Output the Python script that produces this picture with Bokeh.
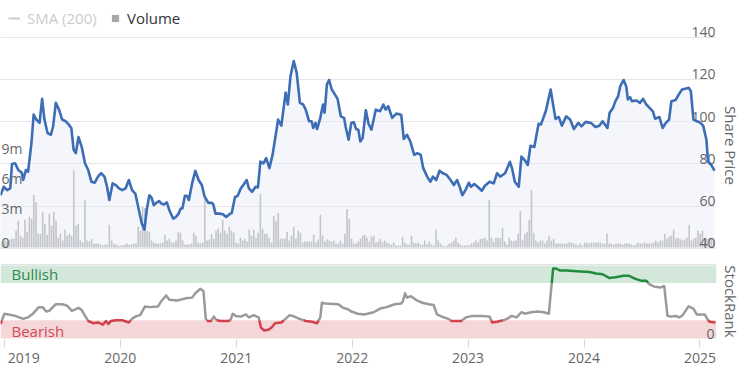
import math
from bokeh.plotting import figure
from bokeh.layouts import column
from bokeh.models import (Range1d, FixedTicker, Grid, LinearAxis, Legend, LegendItem,
                          BoxAnnotation)
from bokeh.core.properties import value
from bokeh.embed import file_html
from bokeh.resources import INLINE

FONT = "Open Sans"

# ---- data (x in decimal years) ----
price_t = [2018.966, 2018.994, 2019.023, 2019.050, 2019.065, 2019.092, 2019.120, 2019.149, 2019.162, 2019.185,
           2019.204, 2019.233, 2019.252, 2019.275, 2019.303, 2019.325, 2019.345, 2019.372, 2019.401, 2019.420,
           2019.443, 2019.471, 2019.498, 2019.527, 2019.555, 2019.577, 2019.597, 2019.616, 2019.639, 2019.666,
           2019.695, 2019.723, 2019.750, 2019.779, 2019.807, 2019.834, 2019.863, 2019.885, 2019.905, 2019.933,
           2019.961, 2019.989, 2020.017, 2020.045, 2020.073, 2020.101, 2020.129, 2020.157, 2020.185, 2020.208,
           2020.227, 2020.250, 2020.269, 2020.288, 2020.311, 2020.334, 2020.353, 2020.376, 2020.401, 2020.423,
           2020.456, 2020.479, 2020.502, 2020.521, 2020.535, 2020.557, 2020.577, 2020.591, 2020.619, 2020.647,
           2020.675, 2020.703, 2020.725, 2020.759, 2020.787, 2020.801, 2020.821, 2020.857, 2020.885, 2020.913,
           2020.941, 2020.961, 2020.989, 2021.011, 2021.039, 2021.067, 2021.090, 2021.109, 2021.137, 2021.166,
           2021.187, 2021.208, 2021.235, 2021.258, 2021.286, 2021.313, 2021.334, 2021.361, 2021.389, 2021.426,
           2021.445, 2021.468, 2021.496, 2021.521, 2021.549, 2021.577, 2021.599, 2021.628, 2021.650, 2021.664,
           2021.683, 2021.697, 2021.725, 2021.748, 2021.762, 2021.782, 2021.801, 2021.824, 2021.851, 2021.874,
           2021.902, 2021.930, 2021.944, 2021.969, 2021.992, 2022.014, 2022.034, 2022.053, 2022.070, 2022.090,
           2022.118, 2022.141, 2022.166, 2022.204, 2022.241, 2022.269, 2022.288, 2022.311, 2022.345, 2022.381,
           2022.423, 2022.445, 2022.473, 2022.502, 2022.535, 2022.563, 2022.591, 2022.613, 2022.647, 2022.675,
           2022.697, 2022.725, 2022.754, 2022.782, 2022.815, 2022.849, 2022.877, 2022.905, 2022.927, 2022.950,
           2022.977, 2023.006, 2023.025, 2023.053, 2023.082, 2023.118, 2023.145, 2023.185, 2023.221, 2023.250,
           2023.277, 2023.319, 2023.361, 2023.381, 2023.403, 2023.437, 2023.460, 2023.487, 2023.515, 2023.538,
           2023.571, 2023.608, 2023.628, 2023.670, 2023.712, 2023.754, 2023.782, 2023.809, 2023.846, 2023.880,
           2023.913, 2023.950, 2023.978, 2024.014, 2024.061, 2024.098, 2024.132, 2024.160, 2024.202, 2024.221,
           2024.250, 2024.271, 2024.294, 2024.313, 2024.342, 2024.364, 2024.378, 2024.398, 2024.412, 2024.454,
           2024.482, 2024.510, 2024.538, 2024.566, 2024.594, 2024.613, 2024.650, 2024.678, 2024.706, 2024.734,
           2024.754, 2024.790, 2024.818, 2024.846, 2024.874, 2024.903, 2024.922, 2024.944, 2024.972, 2025.000,
           2025.028, 2025.056, 2025.070, 2025.098, 2025.126]
price = [65.2, 69.2, 67.6, 68.4, 80.0, 80.3, 77.1, 75.9, 72.4, 77.1,
         76.3, 89.9, 103.3, 101.0, 99.4, 110.8, 101.0, 94.6, 93.8, 97.8,
         108.9, 105.7, 101.0, 100.2, 98.6, 97.0, 86.7, 85.1, 92.7, 88.2,
         80.3, 77.1, 71.6, 71.1, 74.0, 75.6, 74.0, 69.2, 62.9, 70.8,
         70.0, 68.4, 67.6, 68.4, 72.4, 67.6, 66.0, 58.9, 51.8, 48.9,
         58.1, 65.2, 64.1, 60.5, 61.6, 62.4, 61.3, 60.8, 61.8, 58.1,
         54.1, 54.9, 56.5, 58.9, 58.9, 64.9, 64.8, 62.9, 70.8, 76.7,
         72.4, 70.0, 64.8, 61.6, 61.6, 61.0, 56.5, 56.5, 56.2, 54.9,
         56.2, 56.8, 64.4, 64.8, 68.4, 70.5, 72.4, 68.4, 66.8, 69.2,
         68.9, 81.1, 80.3, 82.7, 78.0, 84.3, 91.4, 101.0, 98.1, 113.7,
         108.1, 121.6, 128.7, 123.2, 108.9, 108.1, 105.7, 100.2, 100.2, 97.0,
         99.4, 96.5, 101.8, 108.1, 104.2, 117.6, 119.7, 115.2, 112.9, 110.8,
         102.5, 101.8, 97.5, 91.4, 99.4, 99.7, 96.5, 96.2, 90.6, 92.2,
         105.4, 99.0, 96.2, 105.7, 104.9, 108.1, 105.7, 107.3, 101.8, 103.8,
         103.3, 91.8, 93.8, 90.6, 84.3, 85.1, 84.3, 78.0, 74.0, 71.6,
         74.0, 72.4, 76.8, 75.6, 74.8, 72.4, 70.0, 72.4, 69.2, 65.2,
         67.6, 71.1, 69.2, 70.5, 69.2, 67.3, 69.7, 71.6, 70.8, 75.6,
         74.0, 75.6, 81.0, 77.5, 71.6, 69.2, 83.5, 81.9, 79.5, 88.6,
         88.0, 99.0, 98.6, 104.9, 115.2, 101.3, 102.2, 98.1, 102.5, 101.0,
         96.5, 99.4, 97.8, 99.9, 99.4, 97.5, 98.1, 100.2, 97.0, 104.2,
         106.5, 109.7, 112.0, 116.8, 119.7, 116.8, 110.5, 111.6, 109.7, 110.0,
         108.9, 110.8, 108.1, 106.5, 104.9, 101.4, 102.2, 97.0, 99.4, 101.0,
         109.7, 110.2, 112.9, 115.2, 115.6, 116.0, 114.4, 101.0, 100.2, 99.7,
         98.1, 91.4, 81.1, 79.5, 76.8]

# weekly volume (millions), first week starting at vol_start
vol_start = 2018.966
vol_week = 7 / 365.25
volume_m = [0.6, 0.5, 0.7, 0.6, 0.8, 0.9, 0.9, 1.7, 2.7, 1.2, 1.0, 2.8, 1.6, 3.1, 2.9, 5.3, 4.6, 1.4, 1.4, 3.6,
            2.4, 1.3, 3.4, 2.2, 3.6, 2.7, 1.0, 1.4, 0.7, 1.8, 1.2, 1.4, 1.2, 7.8, 2.2, 2.4, 0.7, 0.5, 4.8, 0.7,
            0.6, 0.9, 0.4, 0.4, 0.4, 0.3, 0.2, 0.3, 0.3, 2.3, 0.7, 0.4, 0.3, 0.2, 0.2, 0.2, 0.3, 0.4, 0.3, 0.3,
            0.4, 0.4, 2.1, 1.7, 4.1, 4.0, 1.7, 1.6, 0.7, 0.5, 0.4, 0.4, 0.4, 0.5, 1.3, 0.7, 0.9, 0.5, 0.5, 0.7,
            1.6, 1.5, 0.7,
            0.3, 0.3, 0.3, 0.4, 1.5, 1.2, 0.5, 0.4, 0.5,
            4.9, 0.7, 0.8, 1.4, 0.9, 1.7, 1.9, 1.5, 2.8, 1.7, 1.4, 2.1, 1.7, 1.5, 0.5, 0.4, 1.0, 0.7, 0.9, 0.6,
            1.8, 1.2, 1.8, 1.0, 1.5, 5.4, 1.9, 1.4, 1.4, 1.0, 0.5, 3.2, 2.7, 3.5, 0.9, 0.9, 0.9, 1.6, 0.7, 1.2,
            2.1, 0.9, 1.7, 1.5, 0.5, 0.6, 0.6, 0.6, 0.6, 1.3, 0.5, 0.8, 3.3, 1.2, 0.6, 0.8, 0.7, 0.6, 0.7, 0.4,
            0.4, 0.7, 0.4, 1.4, 3.9, 2.9, 0.9, 0.4, 0.4, 0.6, 0.9, 1.2,
            1.3, 1.0, 0.6, 1.1, 1.2, 0.5, 0.6, 0.9, 0.5, 0.7, 0.5, 0.4, 0.3, 0.5, 0.2, 0.2, 0.2, 1.1, 0.5, 0.3,
            0.3, 1.2, 0.5, 0.4, 0.5, 0.3, 0.3, 0.7, 0.3, 0.6, 0.3, 0.2, 1.8, 0.7, 0.4, 0.2, 0.1, 0.2, 0.4, 0.5,
            0.7, 1.0, 0.5, 0.3, 0.2, 0.2, 0.2, 0.2, 0.4, 0.5, 0.7, 0.5, 0.9, 0.9, 1.0, 0.7, 4.8, 1.0, 0.6, 1.0,
            1.0, 1.0, 2.0, 0.6, 0.3, 1.0, 0.7, 0.6, 0.7, 1.4, 3.7, 0.7, 1.4, 1.6, 2.8, 5.8, 1.5, 0.7, 0.5, 0.7,
            0.7, 0.4, 0.7, 1.2, 0.7, 0.9, 0.4, 0.4, 0.4, 0.4, 0.4, 0.4, 0.5, 0.5, 0.4, 0.3, 0.2, 0.4, 0.2, 0.5,
            0.5, 0.4, 0.5, 0.5, 0.5, 0.5, 0.5, 0.4, 0.4, 1.4, 0.4, 0.4, 0.3, 0.4, 0.4, 0.4, 0.3, 0.4, 0.4, 0.4,
            0.3, 0.2, 0.3, 0.5, 0.4, 0.4, 0.5, 0.4, 0.4, 0.4, 0.5, 0.7, 0.5, 0.7, 0.7, 1.4, 0.9, 1.1, 1.2, 1.8,
            0.9, 1.0, 0.9, 0.7, 0.8, 1.0, 2.3, 0.7, 0.9, 1.0, 1.7, 1.4, 1.7, 1.0, 0.9, 1.0, 1.0, 0.8]

rank_t = [2018.966, 2019.000, 2019.036, 2019.092, 2019.162, 2019.204, 2019.246, 2019.297, 2019.330, 2019.359,
          2019.387, 2019.443, 2019.498, 2019.540, 2019.582, 2019.639, 2019.666, 2019.723, 2019.765, 2019.807,
          2019.849, 2019.876, 2019.897, 2019.918, 2019.961, 2020.017, 2020.073, 2020.101, 2020.129, 2020.171,
          2020.213, 2020.255, 2020.325, 2020.353, 2020.395, 2020.423, 2020.493, 2020.563, 2020.619, 2020.647,
          2020.689, 2020.717, 2020.737, 2020.754, 2020.782, 2020.807, 2020.829, 2020.871, 2020.927, 2020.950,
          2020.969, 2020.997, 2021.039, 2021.082, 2021.109, 2021.151, 2021.193, 2021.213, 2021.241, 2021.277,
          2021.305, 2021.334, 2021.389, 2021.426, 2021.460, 2021.487, 2021.544, 2021.599, 2021.655, 2021.697,
          2021.725, 2021.739, 2021.767, 2021.880, 2021.922, 2021.964, 2021.992, 2022.048, 2022.103, 2022.185,
          2022.241, 2022.297, 2022.367, 2022.423, 2022.437, 2022.456, 2022.473, 2022.507, 2022.549, 2022.605,
          2022.661, 2022.703, 2022.731, 2022.773, 2022.829, 2022.857, 2022.941, 2022.983, 2023.039, 2023.124,
          2023.185, 2023.208, 2023.250, 2023.305, 2023.347, 2023.376, 2023.418, 2023.460, 2023.487, 2023.515,
          2023.544, 2023.599, 2023.655, 2023.697, 2023.712, 2023.734, 2023.754, 2023.796, 2023.851, 2023.935,
          2024.048, 2024.103, 2024.160, 2024.216, 2024.271, 2024.342, 2024.384, 2024.439, 2024.496, 2024.538,
          2024.566, 2024.608, 2024.664, 2024.692, 2024.720, 2024.748, 2024.790, 2024.818, 2024.846, 2024.902,
          2024.944, 2024.972, 2025.000, 2025.042, 2025.070, 2025.084, 2025.134]
rank = [20, 34, 33, 31, 27, 29, 34, 43, 43, 37,
        38, 47, 47, 45, 38, 42, 39, 24, 21, 22,
        19, 24, 20, 24, 25, 25, 22, 27, 30, 32,
        44, 43, 44, 51, 59, 53, 52, 55, 56, 62,
        68, 65, 27, 24, 24, 30, 25, 24, 24, 25,
        34, 31, 30, 33, 29, 32, 29, 15, 11, 12,
        15, 21, 22, 27, 32, 31, 27, 24, 23, 21,
        29, 49, 48, 47, 42, 40, 37, 34, 33, 36,
        41, 43, 47, 48, 51, 62, 56, 58, 53, 49,
        47, 46, 33, 30, 27, 24, 24, 29, 31, 31,
        30, 22, 23, 25, 28, 31, 29, 36, 34, 35,
        36, 37, 36, 34, 60, 96, 96, 93, 93, 92,
        91, 89, 88, 83, 84, 86, 86, 82, 79, 79,
        74, 71, 70, 72, 31, 30, 31, 29, 31, 44,
        41, 33, 33, 33, 25, 23, 22]

year_ticks = [2019, 2020, 2021, 2022, 2023, 2024, 2025]
price_ticks = [40, 60, 80, 100, 120, 140]
vol_ticks = [0, 3, 6, 9]
vol_tick_labels = ["0", "3m", "6m", "9m"]
rank_ticks = [0]
bear_zone = (0, 25)
bull_zone = (76, 100)

# ---- layout constants ----
X0, X1 = 2018.966, 2025.143
FW = 716
RB = 24
TEXT = "#666666"
NBSP = "\u00a0"
ZWSP = "\u200b"

xr = Range1d(X0, X1)


def bare_figure(frame_height, y_range, top=0):
    f = figure(frame_width=FW, frame_height=frame_height, x_range=xr, y_range=y_range,
               x_axis_location=None, y_axis_location=None, toolbar_location=None,
               output_backend="svg", min_border_left=0, min_border_right=RB,
               min_border_top=top, min_border_bottom=0, outline_line_color=None)
    f.xgrid.visible = False
    f.ygrid.visible = False
    return f


def title_axis(text):
    return LinearAxis(ticker=FixedTicker(ticks=[]), axis_label=text,
                      axis_line_color=None, major_tick_line_color=None, minor_tick_line_color=None,
                      major_tick_out=0, major_tick_in=0, major_label_standoff=0,
                      axis_label_standoff=4, axis_label_text_font=FONT,
                      axis_label_text_font_size="15px", axis_label_text_font_style="normal",
                      axis_label_text_color=TEXT)


# ================= price / volume panel =================
p1 = bare_figure(251, Range1d(38.58, 157.3))
p1.extra_y_ranges = {"vol": Range1d(-0.40, 24.95)}
p1.add_layout(Grid(dimension=1, ticker=FixedTicker(ticks=price_ticks),
                   grid_line_color="#e6e6e6", grid_line_width=1))

p1.varea(x=price_t, y1=40, y2=price, fill_color="#e6ebf7", fill_alpha=0.45)
vol_t = [vol_start + i * vol_week for i in range(len(volume_m))]
p1.vbar(x=vol_t, top=volume_m, bottom=0, width=vol_week * 0.72, y_range_name="vol",
        fill_color="#c3c5cb", line_color=None)

p1.text(x=[X1] * len(price_ticks), y=price_ticks, text=[str(v) for v in price_ticks],
        text_align="right", text_baseline="bottom", x_offset=-1,
        text_font=value(FONT), text_font_size="14px", text_color=TEXT)
p1.text(x=[X0] * len(vol_ticks), y=vol_ticks, text=vol_tick_labels, y_range_name="vol",
        text_align="left", text_baseline="bottom", x_offset=1,
        text_font=value(FONT), text_font_size="14px", text_color=TEXT)

p1.line(price_t, price, line_color="#3d6db5", line_width=2.6, line_join="round")

# legend keys (nothing drawn in the plot area)
sma_key = p1.line(x=[math.nan], y=[math.nan], line_color="#cccccc", line_width=2)
vol_key = p1.scatter(x=[math.nan], y=[math.nan], marker="square", size=7,
                     fill_color="#a9a9a9", line_color=None)
leg1 = Legend(items=[LegendItem(label="SMA (200)", renderers=[sma_key])],
              location=(8, 223), glyph_width=12, glyph_height=20,
              label_standoff=7, padding=0, margin=0, spacing=0,
              background_fill_alpha=0, border_line_color=None,
              label_text_font=FONT, label_text_font_size="15px", label_text_color="#cccccc")
leg2 = Legend(items=[LegendItem(label="Volume", renderers=[vol_key])],
              location=(106, 223), glyph_width=18, glyph_height=20,
              label_standoff=3, padding=0, margin=0, spacing=0,
              background_fill_alpha=0, border_line_color=None,
              label_text_font=FONT, label_text_font_size="15px", label_text_color="#333333")
p1.add_layout(leg1)
p1.add_layout(leg2)

# title centred on the price scale (below the legend strip)
p1.add_layout(title_axis(ZWSP + NBSP * 10 + "Share Price"), "right")

# ================= StockRank panel =================
p2 = bare_figure(76, Range1d(-1.3, 102.7), top=12)
p2.add_layout(Grid(dimension=1, ticker=FixedTicker(ticks=[101.9]),
                   grid_line_color="#e3e3e3", grid_line_width=1.5))

p2.add_layout(BoxAnnotation(bottom=bear_zone[0], top=bear_zone[1], fill_color="#f5d7d9",
                            fill_alpha=1, line_color=None, level="underlay"))
p2.add_layout(BoxAnnotation(bottom=bull_zone[0], top=bull_zone[1], fill_color="#d3e8db",
                            fill_alpha=1, line_color=None, level="underlay"))

p2.text(x=[X0], y=[88], text=["Bullish"], x_offset=11, text_align="left", text_baseline="middle",
        text_font=value(FONT), text_font_size="15px", text_color="#2c8a4c")
p2.text(x=[X0], y=[11], text=["Bearish"], x_offset=11, text_align="left", text_baseline="middle",
        text_font=value(FONT), text_font_size="15px", text_color="#d04a55")
p2.text(x=[X1] * len(rank_ticks), y=rank_ticks, text=[str(v) for v in rank_ticks],
        text_align="right", text_baseline="bottom", x_offset=-2,
        text_font=value(FONT), text_font_size="14px", text_color=TEXT)

# split the StockRank line into coloured zones
LOW, HIGH = bear_zone[1], bull_zone[0]


def zone_of(v):
    if v <= LOW:
        return 0
    if v >= HIGH:
        return 2
    return 1


runs = []
xs, ys, z = [rank_t[0]], [rank[0]], zone_of(rank[0])
for i in range(1, len(rank)):
    xa, ya, xb, yb = rank_t[i - 1], rank[i - 1], rank_t[i], rank[i]
    zb = zone_of(yb)
    while zb != z:
        if zb > z:
            th = LOW if z == 0 else HIGH
            nz = z + 1
        else:
            th = HIGH if z == 2 else LOW
            nz = z - 1
        xc = xa + (th - ya) / (yb - ya) * (xb - xa)
        xs.append(xc)
        ys.append(th)
        runs.append((xs, ys, z))
        xs, ys, z = [xc], [th], nz
    xs.append(xb)
    ys.append(yb)
runs.append((xs, ys, z))

zone_colors = {0: "#d2404c", 1: "#9a9a9a", 2: "#23893b"}
p2.multi_line(xs=[r[0] for r in runs], ys=[r[1] for r in runs],
              line_color=[zone_colors[r[2]] for r in runs], line_width=2.5, line_join="round")

# first year label is pushed right so that it stays inside the chart
year_labels = {year_ticks[0]: NBSP * 2 + str(year_ticks[0])}
xaxis = LinearAxis(ticker=FixedTicker(ticks=year_ticks), major_label_overrides=year_labels,
                   axis_line_color=None, major_tick_line_color="#d9d9d9", major_tick_in=0,
                   major_tick_out=8, minor_tick_line_color=None, major_label_standoff=0,
                   major_label_text_font=FONT, major_label_text_font_size="14px",
                   major_label_text_color=TEXT)
p2.add_layout(xaxis, "below")
p2.add_layout(title_axis("StockRank"), "right")

layout = column(p1, p2)
open("out.html", "w").write(file_html(layout, INLINE))
